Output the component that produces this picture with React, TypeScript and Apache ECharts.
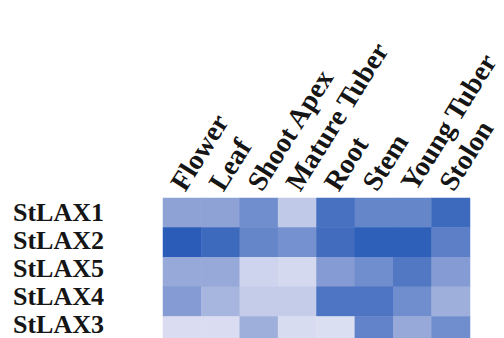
import React, { useEffect, useRef } from "react";
import * as echarts from "echarts";

const tissues = ["Flower", "Leaf", "Shoot Apex", "Mature Tuber", "Root", "Stem", "Young Tuber", "Stolon"];
const genes = ["StLAX1", "StLAX2", "StLAX5", "StLAX4", "StLAX3"];

const stLAX1 = [0.5, 0.5, 0.65, 0.2, 0.85, 0.7, 0.7, 0.9];
const stLAX2 = [1.0, 0.9, 0.7, 0.62, 0.88, 0.98, 0.98, 0.75];
const stLAX5 = [0.45, 0.45, 0.12, 0.08, 0.55, 0.65, 0.8, 0.55];
const stLAX4 = [0.55, 0.35, 0.18, 0.18, 0.82, 0.82, 0.65, 0.4];
const stLAX3 = [0.05, 0.05, 0.4, 0.06, 0.04, 0.72, 0.45, 0.65];

const rows = [stLAX1, stLAX2, stLAX5, stLAX4, stLAX3];

const labelFont = {
  fontFamily: "Liberation Serif",
  fontWeight: "bold",
  color: "#151515",
};

export default function App() {
  const ref = useRef<HTMLDivElement>(null);
  useEffect(() => {
    if (!ref.current) return;
    const chart = echarts.init(ref.current, null, { renderer: "svg" });
    const data: [number, number, number][] = [];
    rows.forEach((r, yi) => r.forEach((v, xi) => data.push([xi, yi, v])));
    chart.setOption({
      animation: false,
      backgroundColor: "#ffffff",
      grid: [
        { left: 163, top: 198, width: 307, height: 148, outerBoundsMode: "none", containLabel: false },
        { left: 163, top: 198, width: 307, height: 141, outerBoundsMode: "none", containLabel: false },
      ],
      xAxis: [
        {
          type: "category",
          gridIndex: 0,
          position: "top",
          data: tissues,
          axisLine: { show: false },
          axisTick: { show: false },
          splitLine: { show: false },
          axisLabel: {
            ...labelFont,
            rotate: -58,
            align: "left",
            verticalAlign: "bottom",
            lineHeight: 12,
            margin: 7,
            interval: 0,
            hideOverlap: false,
            fontSize: 28,
          },
        },
        {
          type: "category",
          gridIndex: 1,
          data: tissues,
          show: false,
        },
      ],
      yAxis: [
        {
          type: "category",
          gridIndex: 0,
          data: genes,
          inverse: true,
          axisLine: { show: false },
          axisTick: { show: false },
          splitLine: { show: false },
          axisLabel: { show: false },
        },
        {
          type: "category",
          gridIndex: 1,
          data: genes,
          inverse: true,
          axisLine: { show: false },
          axisTick: { show: false },
          splitLine: { show: false },
          axisLabel: {
            ...labelFont,
            align: "left",
            margin: 150,
            interval: 0,
            fontSize: 26,
          },
        },
      ],
      visualMap: {
        show: false,
        min: 0,
        max: 1,
        seriesIndex: 0,
        inRange: { color: ["#e2e4f4", "#8ea2d6", "#2a5cb8"] },
      },
      series: [
        {
          type: "heatmap",
          xAxisIndex: 0,
          yAxisIndex: 0,
          data,
          itemStyle: { borderWidth: 0 },
        },
      ],
    });
    return () => chart.dispose();
  }, []);
  return (
    <div
      ref={ref}
      style={{ position: "fixed", left: 0, top: 0, width: 504, height: 338 }}
    />
  );
}
